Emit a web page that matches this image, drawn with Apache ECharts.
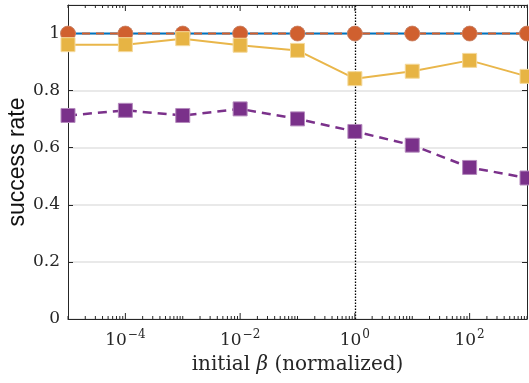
<!DOCTYPE html>
<html>
<head>
<meta charset="utf-8">
<script src="https://cdn.jsdelivr.net/npm/echarts@6/dist/echarts.min.js"></script>
<style>
  html, body { margin: 0; padding: 0; background: #ffffff; }
  #chart { width: 529px; height: 383px; }
</style>
</head>
<body>
<div id="chart"></div>
<script>
// Initial beta values (normalized), one per decade
const betaValues = [1e-5, 1e-4, 1e-3, 1e-2, 1e-1, 1, 10, 100, 1000];

// Success rate of each method
const blueRate   = [1, 1, 1, 1, 1, 1, 1, 1, 1];
const orangeRate = [1, 1, 1, 1, 1, 1, 1, 1, 1];
const yellowRate = [0.961, 0.961, 0.982, 0.959, 0.941, 0.842, 0.868, 0.906, 0.850];
const purpleRate = [0.713, 0.731, 0.713, 0.736, 0.701, 0.657, 0.609, 0.531, 0.494];

// Axis ranges and labels
const xRange = [1e-5, 1e3];
const yRange = [0, 1.1];
const yTickStep = 0.2;
const xLabelExponents = [-4, -2, 0, 2];
const referenceBeta = 1;

const SERIF = '"DejaVu Serif", "Liberation Serif", serif';
const SANS = '"Liberation Sans", Arial, sans-serif';
const AXIS_COLOR = '#262626';

// Log-axis tick positions: k * 10^n; labelled decades get long ticks
const tickMarks = [];
for (let n = -5; n <= 2; n++) {
  for (let k = 1; k <= 9; k++) {
    const v = k * Math.pow(10, n);
    const major = k === 1 && xLabelExponents.indexOf(n) >= 0;
    tickMarks.push([v, major ? 1 : 0]);
  }
}
tickMarks.push([1e3, 0]);

function zip(xs, ys) { return xs.map((x, i) => [x, ys[i]]); }

function supLabel(exp) {
  const s = exp < 0 ? '\u2212' + (-exp) : String(exp);
  return '{b|10}{s|' + s + '}';
}

const chart = echarts.init(document.getElementById('chart'), null, { renderer: 'canvas' });

const option = {
  animation: false,
  backgroundColor: '#ffffff',
  grid: { left: 68, right: 2, top: 5, bottom: 64, containLabel: false, outerBoundsMode: 'none' },
  xAxis: [
    {
      type: 'log', logBase: 10, min: xRange[0], max: xRange[1],
      position: 'bottom',
      axisLine: { show: true, lineStyle: { color: AXIS_COLOR, width: 1 } },
      axisTick: { show: false },
      splitLine: { show: false },
      axisLabel: {
        margin: 6,
        formatter: function (value) {
          const e = Math.round(Math.log10(value));
          return xLabelExponents.indexOf(e) >= 0 ? supLabel(e) : '';
        },
        rich: {
          b: { fontFamily: SERIF, fontSize: 17, color: AXIS_COLOR, verticalAlign: 'bottom', lineHeight: 24 },
          s: { fontFamily: SERIF, fontSize: 12, color: AXIS_COLOR, verticalAlign: 'bottom', lineHeight: 24, padding: [0, 0, 8, 1] }
        }
      },
      name: '{n|initial }{g|\u03B2}{n| (normalized)}',
      nameLocation: 'middle',
      nameGap: 36,
      nameMoveOverlap: false,
      nameTextStyle: {
        rich: {
          n: { fontFamily: SERIF, fontSize: 20, color: AXIS_COLOR },
          g: { fontFamily: SERIF, fontSize: 20, color: AXIS_COLOR, fontStyle: 'italic' }
        }
      }
    },
    {
      type: 'log', logBase: 10, min: xRange[0], max: xRange[1],
      position: 'top',
      axisLine: { show: true, onZero: false, lineStyle: { color: AXIS_COLOR, width: 1 } },
      axisTick: { show: false },
      axisLabel: { show: false },
      splitLine: { show: false }
    }
  ],
  yAxis: [
    {
      type: 'value', min: yRange[0], max: yRange[1], interval: yTickStep,
      position: 'left',
      axisLine: { show: true, lineStyle: { color: AXIS_COLOR, width: 1 } },
      axisTick: { show: true, inside: true, length: 5, lineStyle: { color: AXIS_COLOR } },
      splitLine: { show: true, lineStyle: { color: '#e2e2e2', width: 1.5 } },
      axisLabel: {
        margin: 8,
        fontFamily: SERIF, fontSize: 17, color: AXIS_COLOR,
        showMaxLabel: false,
        formatter: function (v) { return String(+v.toFixed(1)); }
      },
      name: 'success rate',
      nameLocation: 'middle',
      nameRotate: 90,
      nameGap: 39,
      nameMoveOverlap: false,
      nameTextStyle: { fontFamily: SANS, fontSize: 23, color: '#111111' }
    },
    {
      type: 'value', min: yRange[0], max: yRange[1], interval: yTickStep,
      position: 'right',
      axisLine: { show: true, lineStyle: { color: AXIS_COLOR, width: 1 } },
      axisTick: { show: true, inside: true, length: 5, lineStyle: { color: AXIS_COLOR } },
      axisLabel: { show: false },
      splitLine: { show: false }
    }
  ],
  series: [
    {
      name: 'ticks',
      type: 'custom',
      xAxisIndex: 0, yAxisIndex: 0,
      silent: true,
      clip: false,
      z: 5,
      data: tickMarks,
      renderItem: function (params, api) {
        const v = api.value(0);
        const len = api.value(1) ? 6 : 3;
        const b = api.coord([v, yRange[0]]);
        const t = api.coord([v, yRange[1]]);
        const style = { stroke: AXIS_COLOR, lineWidth: 1 };
        return {
          type: 'group',
          children: [
            { type: 'line', shape: { x1: b[0], y1: b[1], x2: b[0], y2: b[1] - len }, style: style },
            { type: 'line', shape: { x1: t[0], y1: t[1], x2: t[0], y2: t[1] + len }, style: style }
          ]
        };
      }
    },
    {
      name: 'blue',
      type: 'line',
      data: zip(betaValues, blueRate),
      z: 10,
      symbol: 'circle', symbolSize: 15,
      lineStyle: { color: '#0072BD', width: 2 },
      itemStyle: { color: '#0072BD' }
    },
    {
      name: 'orange',
      type: 'line',
      data: zip(betaValues, orangeRate),
      z: 11,
      symbol: 'circle', symbolSize: 15,
      lineStyle: { color: '#D35F2C', width: 2, type: [8, 6] },
      itemStyle: { color: '#D0602F', borderColor: '#DD8A66', borderWidth: 0.8 }
    },
    {
      name: 'yellow',
      type: 'line',
      data: zip(betaValues, yellowRate),
      z: 12,
      symbol: 'rect', symbolSize: 14,
      lineStyle: { color: '#E9B64A', width: 2 },
      itemStyle: { color: '#E7B444', borderColor: '#F4D99C', borderWidth: 1 }
    },
    {
      name: 'purple',
      type: 'line',
      data: zip(betaValues, purpleRate),
      z: 13,
      symbol: 'rect', symbolSize: 14,
      lineStyle: { color: '#7B318B', width: 2.5, type: [9, 6] },
      itemStyle: { color: '#7A318A', borderColor: '#B48ABD', borderWidth: 1 }
    },
    {
      name: 'reference',
      type: 'line',
      data: [],
      z: 20,
      silent: true,
      markLine: {
        silent: true,
        symbol: 'none',
        label: { show: false },
        lineStyle: { color: '#000000', width: 1.3, type: [1.5, 1.5] },
        data: [{ xAxis: referenceBeta }]
      }
    }
  ]
};

chart.setOption(option);
</script>
</body>
</html>
